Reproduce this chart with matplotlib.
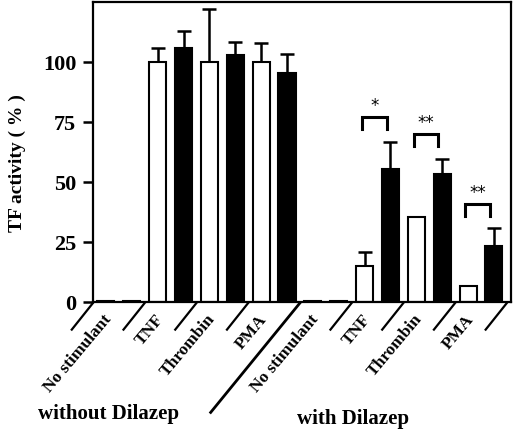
import numpy as np
import matplotlib
matplotlib.use('Agg')
import matplotlib.pyplot as plt

plt.rcParams['font.family'] = ['Liberation Serif', 'DejaVu Serif']
plt.rcParams['font.weight'] = 'bold'

# data
groups = ['No stimulant', 'TNF', 'Thrombin', 'PMA',
          'No stimulant', 'TNF', 'Thrombin', 'PMA']
white_vals = [0.5, 100, 100, 100, 0.5, 15, 35.5, 6.7]
black_vals = [0.5, 106, 103, 95.5, 0.5, 55.5, 53.5, 23.5]
white_err = [0, 6, 22, 8, 0, 6, 0, 0]
black_err = [0, 7, 5.5, 8, 0, 11, 6, 7.5]

sig_groups = [5, 6, 7]
sig_marks = ['*', '**', '**']
sig_top = [77, 70, 41]

yticks = [0, 25, 50, 75, 100]

fig = plt.figure(figsize=(5.2, 4.29), dpi=100)
ax = fig.add_axes([0.1788, 0.296, 0.8039, 0.6993])

n = len(groups)
xw = np.arange(n) * 2
xb = xw + 1
w = 0.66

ax.bar(xw, white_vals, w, color='white', edgecolor='black', linewidth=1.5, zorder=2)
ax.bar(xb, black_vals, w, color='black', edgecolor='black', linewidth=1.5, zorder=2)

def err_up(x, vals, errs):
    x = np.asarray(x)
    vals = np.asarray(vals, float)
    errs = np.asarray(errs, float)
    m = errs > 0
    ax.errorbar(x[m], vals[m], yerr=[np.zeros(m.sum()), errs[m]], fmt='none',
                ecolor='black', elinewidth=1.8, capsize=5, capthick=1.8, zorder=1)

err_up(xw, white_vals, white_err)
err_up(xb, black_vals, black_err)

# significance brackets
for g, mark, top in zip(sig_groups, sig_marks, sig_top):
    x0 = xw[g] - 0.1
    x1 = xb[g] - 0.15
    ax.plot([x0, x0, x1, x1], [top - 5, top, top, top - 5], color='black',
            lw=2.2, solid_joinstyle='miter', zorder=3)
    ax.text((x0 + x1) / 2, top + 4.5, mark, ha='center', va='center',
            fontsize=12, family='DejaVu Sans', fontweight='normal')

ax.set_xlim(-0.5, 15.66)
ax.set_ylim(0, 125)
ax.set_yticks(yticks)
ax.set_yticklabels([str(t) for t in yticks], fontsize=16, fontweight='bold')
ax.set_xticks([])
ax.tick_params(axis='y', direction='out', length=7, width=1.8, pad=5)
for s in ax.spines.values():
    s.set_linewidth(1.6)

# diagonal separators under the axis
bounds = np.arange(9) * 2 - 0.5
for k, b in enumerate(bounds):
    if k == 4:
        ax.plot([b, b - 3.45], [-0.4, -46], color='black', lw=2.0, clip_on=False)
    else:
        ax.plot([b, b - 0.82], [-0.4, -11.5], color='black', lw=1.6, clip_on=False)

# category labels
for g, name in enumerate(groups):
    ax.text(2 * g + 0.5 - 0.15, -4, name, rotation=50, ha='right', va='top',
            fontsize=12.5, fontweight='bold', clip_on=False)

fig.text(17 / 520, 1 - 163 / 429, 'TF activity ( % )', rotation=90,
         ha='center', va='center', fontsize=14, fontweight='bold')
fig.text(108.5 / 520, 1 - 419 / 429, 'without Dilazep', ha='center',
         va='baseline', fontsize=15, fontweight='bold')
fig.text(353 / 520, 1 - 424 / 429, 'with Dilazep', ha='center',
         va='baseline', fontsize=15, fontweight='bold')

fig.savefig('out.png', dpi=100)
